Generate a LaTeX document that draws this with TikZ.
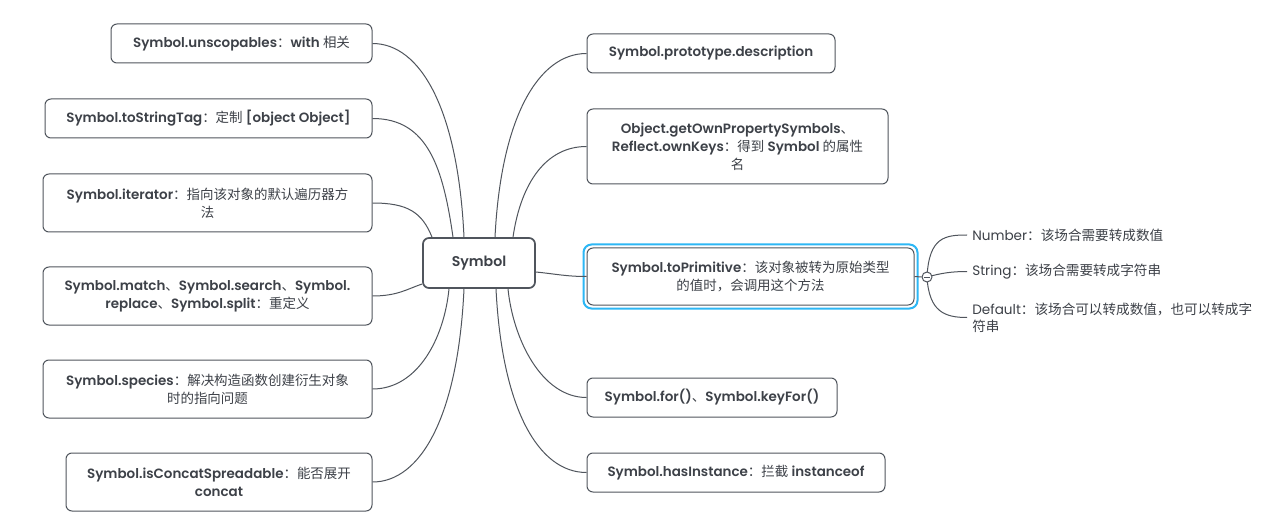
\documentclass[tikz,border=0pt]{standalone}
\usepackage{fontspec}
\setmainfont{Poppins}[BoldFont={Poppins SemiBold}]
\newfontfamily\cjk{Noto Sans CJK SC}
\usetikzlibrary{calc}
\pgfdeclarelayer{bg}
\pgfsetlayers{bg,main}
\definecolor{txt}{HTML}{3D4148}
\definecolor{edge}{HTML}{50555D}
\definecolor{sel}{HTML}{2DB7F5}
\newcommand{\zh}[1]{{\cjk\mdseries #1}}
\tikzset{
  box/.style={draw=edge, line width=0.75pt, rounded corners=4.5pt, fill=white, align=center,
    text=txt, font=\bfseries\fontsize{10.1}{13.5}\selectfont, inner sep=0pt},
  sz/.style 2 args={minimum width=#1*0.75pt, minimum height=#2*0.75pt},
  leaf/.style={anchor=west, align=left, text=txt, font=\fontsize{10.2}{13}\selectfont, inner xsep=3.75pt, inner ysep=0pt},
  conn/.style={draw=edge, line width=0.75pt},
}
\begin{document}
\begin{tikzpicture}[x=0.75pt, y=-0.75pt]
\begin{pgfonlayer}{bg}
\useasboundingbox[fill=white] (0,0) rectangle (1268,524);
\end{pgfonlayer}
% central
\node[box, sz={112}{50}, line width=1.3pt, font=\bfseries\fontsize{10.6}{13}\selectfont] (sym) at (479,263) {Symbol};
% left
\node[box, sz={261}{39}] (L1) at (241.5,43.5) {Symbol.unscopables\zh{：}with \zh{相关}};
\node[box, sz={327}{39}] (L2) at (208.5,118.5) {Symbol.toStringTag\zh{：定制} [object Object]};
\node[box, sz={329}{58}] (L3) at (207.5,203) {Symbol.iterator\zh{：指向该对象的默认遍历器方}\\\zh{法}};
\node[box, sz={329}{58}] (L4) at (207.5,296) {Symbol.match\zh{、}Symbol.search\zh{、}Symbol.\\replace\zh{、}Symbol.split\zh{：重定义}};
\node[box, sz={329}{58}] (L5) at (207.5,389) {Symbol.species\zh{：解决构造函数创建衍生对象}\\\zh{时的指向问题}};
\node[box, sz={306}{58}] (L6) at (219,482) {Symbol.isConcatSpreadable\zh{：能否展开}\\concat};
% right
\node[box, sz={248}{39}] (R1) at (711,53.5) {Symbol.prototype.description};
\node[box, sz={301}{75}] (R2) at (737.5,146.5) {Object.getOwnPropertySymbols\zh{、}\\Reflect.ownKeys\zh{：得到} Symbol \zh{的属性}\\\zh{名}};
\node[box, sz={327}{57}] (R3) at (750.5,276.5) {Symbol.toPrimitive\zh{：该对象被转为原始类型}\\\zh{的值时，会调用这个方法}};
\node[box, sz={250}{39}] (R4) at (712,397.5) {Symbol.for()\zh{、}Symbol.keyFor()};
\node[box, sz={298}{39}] (R5) at (736,472.5) {Symbol.hasInstance\zh{：拦截} instanceof};
% selection frame
\draw[sel, line width=1.5pt, rounded corners=6pt] ($(R3.south west)+(-3,3)$) rectangle ($(R3.north east)+(3,-3)$);
% toggle and leaves
\node[circle, draw=edge, fill=white, line width=0.75pt, minimum size=7.5pt, inner sep=0pt,
  path picture={\draw[edge, line width=0.6pt] ([xshift=1.8pt]path picture bounding box.west) -- ([xshift=-1.8pt]path picture bounding box.east);}] (tog) at (927,277) {};
\node[leaf] (n1) at (967,235) {Number\zh{：该场合需要转成数值}};
\node[leaf] (n2) at (967,271.5) {String\zh{：该场合需要转成字符串}};
\node[leaf] (n3) at (967,317.5) {Default\zh{：该场合可以转成数值，也可以转成字}\\\zh{符串}};
% connectors
\draw[conn] ($(sym.north)+(-15,0)$) .. controls +(-6,-128) and +(48,0) .. (L1.east);
\draw[conn] ($(sym.north)+(-26,0)$) .. controls +(-10,-70) and +(55,0) .. (L2.east);
\draw[conn] ($(sym.north)+(-47,0)$) .. controls +(-10,-25) and +(35,0) .. (L3.east);
\draw[conn] ($(sym.west)+(0,21)$) .. controls +(-15,5) and +(25,0) .. (L4.east);
\draw[conn] ($(sym.south)+(-30,0)$) .. controls +(-5,50) and +(45,0) .. (L5.east);
\draw[conn] ($(sym.south)+(-15,0)$) .. controls +(-6,128) and +(48,0) .. (L6.east);
\draw[conn] ($(sym.north)+(16,0)$) .. controls +(6,-120) and +(-48,0) .. (R1.west);
\draw[conn] ($(sym.north)+(34,0)$) .. controls +(8,-55) and +(-40,0) .. (R2.west);
\draw[conn] ($(sym.east)+(0,9)$) .. controls +(20,2) and +(-20,0) .. (R3.west);
\draw[conn] ($(sym.south)+(29,0)$) .. controls +(5,50) and +(-45,0) .. (R4.west);
\draw[conn] ($(sym.south)+(17,0)$) .. controls +(6,120) and +(-48,0) .. (R5.west);
\draw[conn] (R3.east) -- (tog.west);
\begin{pgfonlayer}{bg}
\draw[conn] (tog.center) .. controls +(2,-40) and +(-22,0) .. (n1.west);
\draw[conn] (tog.center) .. controls +(15,-4) and +(-15,0) .. (n2.west);
\draw[conn] (tog.center) .. controls +(2,35) and +(-22,0) .. (n3.west);
\end{pgfonlayer}
\end{tikzpicture}
\end{document}
